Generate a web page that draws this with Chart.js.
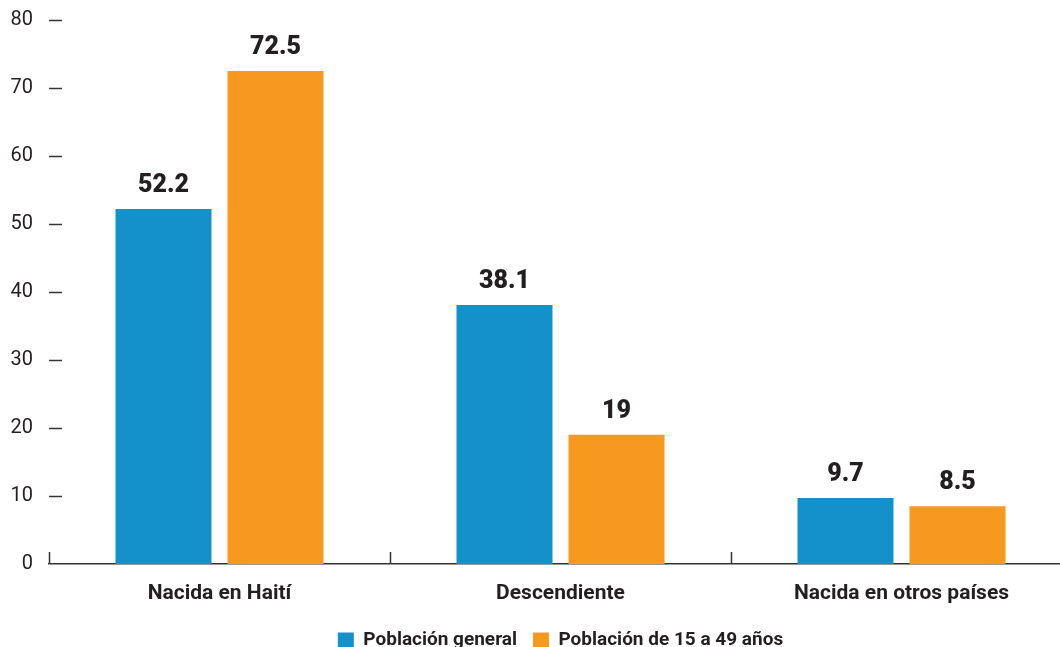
<!DOCTYPE html>
<html>
<head>
<meta charset="utf-8">
<script src="https://cdn.jsdelivr.net/npm/chart.js@4"></script>
<style>
  html, body { margin: 0; padding: 0; background: #fff; overflow: hidden; }
  #chart { display: block; }
</style>
</head>
<body>
<canvas id="chart" width="1072" height="647"></canvas>
<script>
const categories = ["Nacida en Haití", "Descendiente", "Nacida en otros países"];
const generalValues = [52.2, 38.1, 9.7];
const ageGroupValues = [72.5, 19, 8.5];
const seriesNames = ["Población general", "Población de 15 a 49 años"];
const blue = "#1591ca";
const orange = "#f7981f";
const ink = "#231f20";

// little dashes on the y axis, upward ticks between categories, value labels
const extras = {
  id: "extras",
  afterDatasetsDraw(chart) {
    const ctx = chart.ctx;
    const x = chart.scales.x;
    const y = chart.scales.y;
    const area = chart.chartArea;
    ctx.save();
    ctx.strokeStyle = "#333";
    ctx.lineWidth = 1.5;
    y.ticks.forEach(t => {
      if (t.value === 0) return;
      const py = Math.round(y.getPixelForValue(t.value)) + 0.5;
      ctx.beginPath();
      ctx.moveTo(area.left, py);
      ctx.lineTo(area.left + 13, py);
      ctx.stroke();
    });
    const half = (x.getPixelForValue(1) - x.getPixelForValue(0)) / 2;
    categories.forEach((c, i) => {
      const px = Math.round(x.getPixelForValue(i) - half) + 0.5;
      ctx.beginPath();
      ctx.moveTo(px, area.bottom);
      ctx.lineTo(px, area.bottom - 12);
      ctx.stroke();
    });
    ctx.fillStyle = ink;
    ctx.font = "900 25px Roboto";
    ctx.textAlign = "center";
    ctx.textBaseline = "bottom";
    chart.data.datasets.forEach((ds, di) => {
      chart.getDatasetMeta(di).data.forEach((bar, i) => {
        ctx.fillText(String(ds.data[i]), bar.x, bar.y - 11);
      });
    });
    ctx.restore();
  }
};

new Chart(document.getElementById("chart"), {
  type: "bar",
  data: {
    labels: categories,
    datasets: [
      { label: seriesNames[0], data: generalValues, backgroundColor: blue },
      { label: seriesNames[1], data: ageGroupValues, backgroundColor: orange }
    ]
  },
  options: {
    responsive: false,
    animation: false,
    categoryPercentage: 0.657,
    barPercentage: 0.857,
    layout: { padding: { top: 20, bottom: -13, left: 0, right: 0 } },
    plugins: {
      legend: {
        position: "bottom",
        fullSize: false,
        labels: {
          boxWidth: 16,
          boxHeight: 16,
          padding: 16,
          color: ink,
          font: { family: "Roboto", size: 19, weight: "bold" }
        }
      },
      tooltip: { enabled: false }
    },
    scales: {
      x: {
        grid: { display: false, drawTicks: false },
        border: { display: true, color: "#333", width: 1.5 },
        ticks: {
          padding: 17,
          color: ink,
          font: { family: "Roboto", size: 21, weight: "bold" }
        },
        afterFit(scale) { scale.height = 51; }
      },
      y: {
        min: 0,
        max: 80,
        grid: { display: false, drawTicks: false },
        border: { display: false },
        ticks: {
          stepSize: 10,
          padding: 16,
          color: ink,
          font: { family: "Roboto", size: 20 }
        },
        afterFit(scale) {
          scale.width = 49;
          scale.paddingTop = 0;
          scale.paddingBottom = 0;
        }
      }
    }
  },
  plugins: [extras]
});
</script>
</body>
</html>
